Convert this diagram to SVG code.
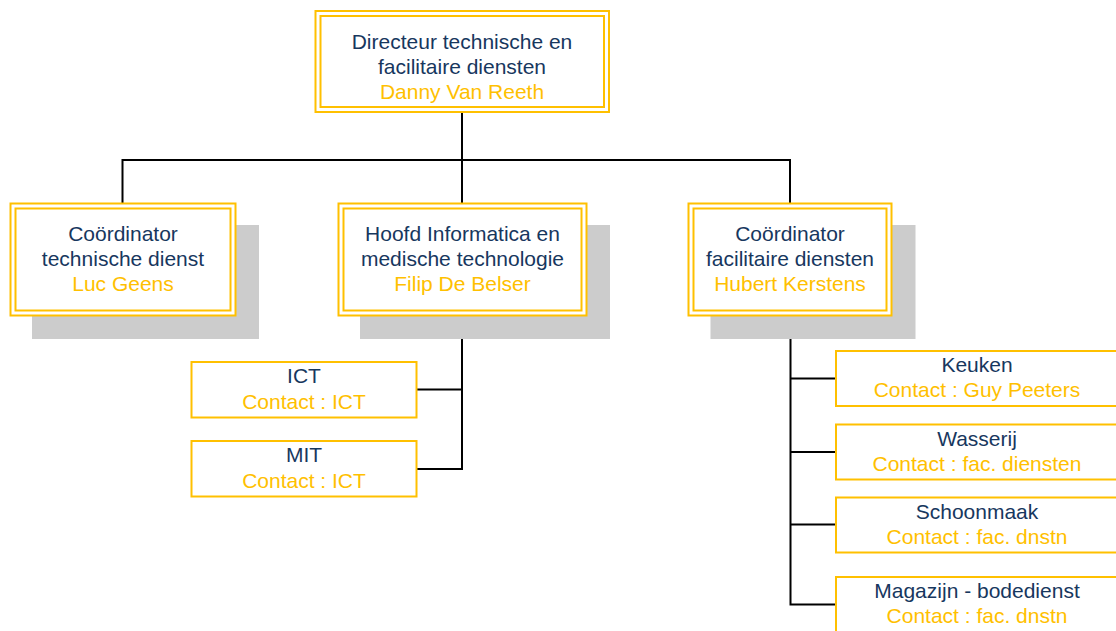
<svg xmlns="http://www.w3.org/2000/svg" width="1116" height="631" viewBox="0 0 1116 631">
<style>
  .bd { fill: #FFFFFF; stroke: #FFC000; stroke-width: 2; }
  .bi { fill: none; stroke: #FFC000; stroke-width: 2; }
  .sh { fill: #CCCCCC; stroke: none; }
  .t { font-family: "Liberation Sans", Arial, sans-serif; font-size: 21px; text-anchor: middle; fill: #17375E; }
  .n { font-family: "Liberation Sans", Arial, sans-serif; font-size: 21px; text-anchor: middle; fill: #FFC000; }
  .c { fill: none; stroke: #000000; stroke-width: 2; }
</style>
<rect width="1116" height="631" fill="#FFFFFF"/>
<g id="connectors">
  <path class="c" d="M462,113 V160 M122.5,203 V160 H790 V203 M462,160 V203"/>
  <path class="c" d="M462,316 V469 H417 M462,389.5 H417"/>
  <path class="c" d="M790.5,316 V604.5 H835 M790.5,378.5 H835 M790.5,452 H835 M790.5,524.5 H835"/>
</g>
<g id="director">
  <rect class="bd" x="315.5" y="11" width="293.5" height="101"/>
  <rect class="bi" x="320.5" y="16" width="283.5" height="91"/>
  <text class="t" x="462" y="49">Directeur technische en</text>
  <text class="t" x="462" y="74">facilitaire diensten</text>
  <text class="n" x="462" y="99">Danny Van Reeth</text>
</g>
<g id="coord-tech">
  <rect class="sh" x="32" y="225" width="227" height="114"/>
  <rect class="bd" x="10.5" y="203.5" width="225" height="112"/>
  <rect class="bi" x="15.5" y="208.5" width="215" height="102"/>
  <text class="t" x="123" y="241">Coördinator</text>
  <text class="t" x="123" y="266">technische dienst</text>
  <text class="n" x="123" y="291">Luc Geens</text>
</g>
<g id="hoofd-info">
  <rect class="sh" x="360" y="225" width="250" height="114"/>
  <rect class="bd" x="338.5" y="203.5" width="248" height="112"/>
  <rect class="bi" x="343.5" y="208.5" width="238" height="102"/>
  <text class="t" x="462.5" y="241">Hoofd Informatica en</text>
  <text class="t" x="462.5" y="266">medische technologie</text>
  <text class="n" x="462.5" y="291">Filip De Belser</text>
</g>
<g id="coord-fac">
  <rect class="sh" x="710.5" y="225" width="205" height="114"/>
  <rect class="bd" x="688.5" y="203.5" width="203" height="112"/>
  <rect class="bi" x="693.5" y="208.5" width="193" height="102"/>
  <text class="t" x="790" y="241">Coördinator</text>
  <text class="t" x="790" y="266">facilitaire diensten</text>
  <text class="n" x="790" y="291">Hubert Kerstens</text>
</g>
<g id="ict">
  <rect class="bd" x="191.5" y="362" width="225" height="55.5"/>
  <text class="t" x="304" y="383">ICT</text>
  <text class="n" x="304" y="409">Contact : ICT</text>
</g>
<g id="mit">
  <rect class="bd" x="191.5" y="441" width="225" height="55.5"/>
  <text class="t" x="304" y="462">MIT</text>
  <text class="n" x="304" y="488">Contact : ICT</text>
</g>
<g id="keuken">
  <rect class="bd" x="836" y="351" width="282" height="55"/>
  <text class="t" x="977" y="372">Keuken</text>
  <text class="n" x="977" y="397">Contact : Guy Peeters</text>
</g>
<g id="wasserij">
  <rect class="bd" x="836" y="424.5" width="282" height="55"/>
  <text class="t" x="977" y="446">Wasserij</text>
  <text class="n" x="977" y="471">Contact : fac. diensten</text>
</g>
<g id="schoonmaak">
  <rect class="bd" x="836" y="497.5" width="282" height="55"/>
  <text class="t" x="977" y="519">Schoonmaak</text>
  <text class="n" x="977" y="544">Contact : fac. dnstn</text>
</g>
<g id="magazijn">
  <rect class="bd" x="836" y="577" width="282" height="55"/>
  <text class="t" x="977" y="598">Magazijn - bodedienst</text>
  <text class="n" x="977" y="623">Contact : fac. dnstn</text>
</g>
</svg>
